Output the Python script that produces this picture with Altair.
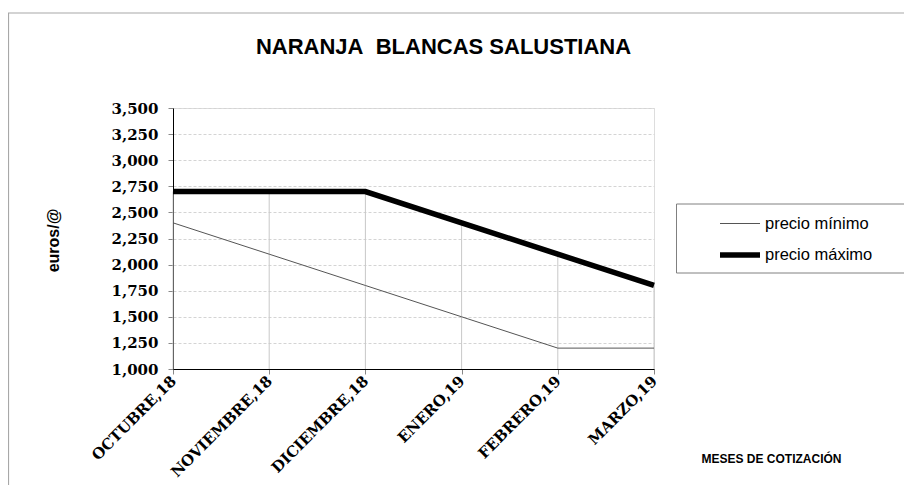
import altair as alt
import pandas as pd

meses = ["OCTUBRE,18", "NOVIEMBRE,18", "DICIEMBRE,18", "ENERO,19", "FEBRERO,19", "MARZO,19"]
precio_min = [2.4, 2.1, 1.8, 1.5, 1.2, 1.2]
precio_max = [2.7, 2.7, 2.7, 2.4, 2.1, 1.8]
series = ["precio mínimo", "precio máximo"]
y_ticks = [1.0, 1.25, 1.5, 1.75, 2.0, 2.25, 2.5, 2.75, 3.0, 3.25, 3.5]

rows = []
for m, lo, hi in zip(meses, precio_min, precio_max):
    rows.append({"mes": m, "serie": series[0], "precio": lo})
    rows.append({"mes": m, "serie": series[1], "precio": hi})
df = pd.DataFrame(rows)
drop = pd.DataFrame({"mes": meses, "top": precio_max, "base": [y_ticks[0]] * len(meses)})

W, H = 481, 261
SERIF = "DejaVu Serif"
SANS = "Liberation Sans"

x_axis = alt.Axis(
    title="MESES DE COTIZACIÓN", titleFont=SANS, titleFontSize=12, titleFontWeight="bold",
    titleX=598, titleY=89, titleAlign="center", titleBaseline="middle",
    labelAngle=315, labelAlign="right", labelBaseline="middle", labelPadding=4,
    labelFont=SERIF, labelFontSize=15, labelFontWeight="bold", labelColor="black",
    labelOverlap=False,
    grid=False, domainColor="black", tickColor="#888888", tickSize=5,
)
x_scale = alt.Scale(type="point", padding=0)
y_scale = alt.Scale(domain=[1.0, 3.5], nice=False, zero=False)
y_axis = alt.Axis(
    title="euros/@", titleFont=SANS, titleFontSize=16, titleFontWeight="bold",
    titleAngle=270, titleX=-120, titleY=132, titleAlign="center", titleBaseline="middle",
    values=y_ticks, tickCount=len(y_ticks),
    labelExpr="replace(format(datum.value, '.3f'), '.', ',')",
    labelFont=SERIF, labelFontSize=15, labelFontWeight="bold", labelColor="black",
    labelOverlap=False,
    labelPadding=10, tickSize=5, tickColor="#888888", domainColor="black",
    grid=True, gridColor="#d4d4d4", gridDash=[3, 2], gridWidth=1,
)

rules = alt.Chart(drop).mark_rule(color="#c8c8c8", strokeWidth=1).encode(
    x=alt.X("mes:N", sort=meses, scale=x_scale, axis=x_axis),
    y=alt.Y("top:Q", scale=y_scale, axis=y_axis),
    y2="base:Q",
)

leg = alt.Legend(
    title=None, orient="none", legendX=544, legendY=95,
    symbolType="stroke", symbolSize=1600, labelFont=SANS, labelFontSize=16.5,
    labelColor="black", labelOffset=2, rowPadding=-11, padding=0,
)
lines = alt.Chart(df).mark_line().encode(
    x=alt.X("mes:N", sort=meses, scale=x_scale, axis=x_axis),
    y=alt.Y("precio:Q", scale=y_scale, axis=y_axis),
    color=alt.Color("serie:N", sort=series, scale=alt.Scale(domain=series, range=["#555555", "#000000"]), legend=leg),
    strokeWidth=alt.StrokeWidth("serie:N", sort=series, scale=alt.Scale(domain=series, range=[1, 5.5]), legend=leg),
    detail="serie:N",
)

box_df = pd.DataFrame({"k": [0]})
legend_box = alt.Chart(box_df).mark_rect(fillOpacity=0, stroke="#808080", strokeWidth=1).encode(
    x=alt.value(503.5), x2=alt.value(735), y=alt.value(96), y2=alt.value(165)
)
outer_box = alt.Chart(box_df).mark_rect(fillOpacity=0, stroke="#a8a8a8", strokeWidth=1.2).encode(
    x=alt.value(-164.5), x2=alt.value(W + 260), y=alt.value(-95), y2=alt.value(H + 130)
)

chart = alt.layer(outer_box, rules, lines, legend_box).properties(
    width=W, height=H,
    title=alt.Title("NARANJA\u00a0 BLANCAS SALUSTIANA", font=SANS, fontSize=22, fontWeight="bold",
                    color="black", anchor="middle", frame="group", dx=30, dy=47, offset=0),
    autosize=alt.AutoSizeParams(type="none"),
    padding={"left": 165, "top": 100, "right": 250, "bottom": 116},
).configure_view(stroke=None).configure(background="white")

chart.save("out.html", embed_options={"renderer": "svg", "actions": False})
